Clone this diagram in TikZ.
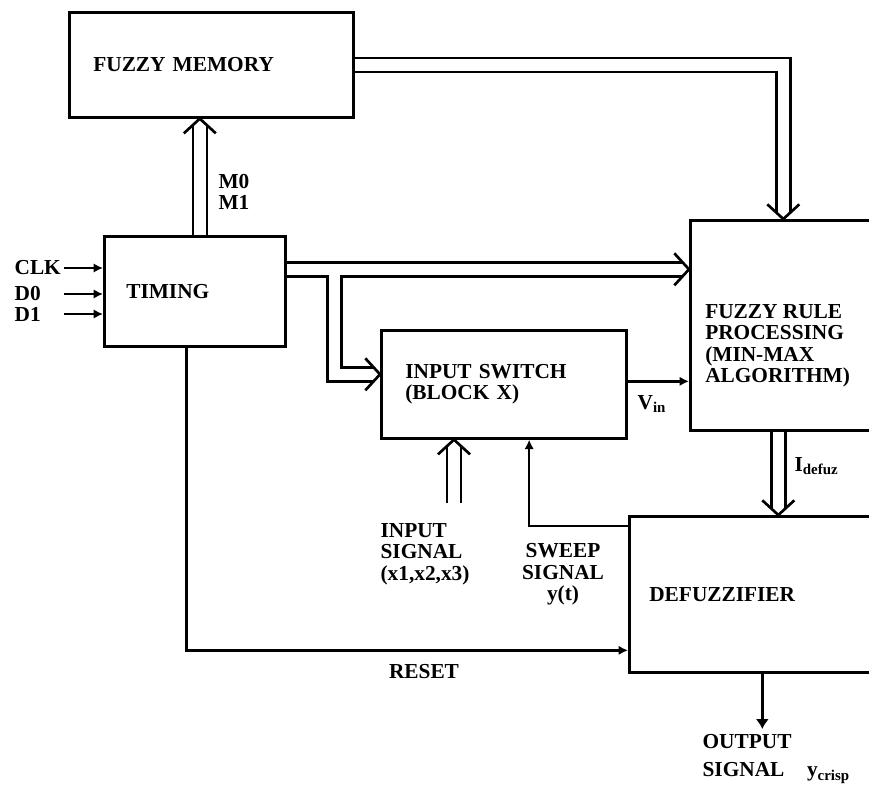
\documentclass[tikz,border=0pt]{standalone}
\usepackage{fontspec}
\setmainfont{Liberation Serif}
\usetikzlibrary{arrows.meta, positioning, decorations.markings}

\begin{document}
\begin{tikzpicture}[
		x=0.75pt, y=-0.75pt,
		font=\fontsize{16}{16}\selectfont\bfseries,
		block/.style={rectangle, draw=black, line width=2pt, align=left, anchor=north west, inner ysep=0pt},
		bus/.style={draw=none,
			postaction={draw, double, double distance=8.5pt, line width=2pt, shorten >=5pt},
			postaction={decorate, decoration={markings, mark=at position 1 with {\draw[line width=2pt] (-11pt,12pt) -- (0,0) -- (-11pt,-12pt);}}}},
		sig/.style={line width=1.8pt, -{Latex[length=7pt, width=7pt]}},
		txt/.style={inner sep=1pt, align=left},
		inlbl/.style={txt, text width=36pt, anchor=west}
		]
		\useasboundingbox (0,0) rectangle (869,785);
		\clip (0,0) rectangle (869,785);
		
		% Blocks
		\node[block, minimum width=213pt, minimum height=78.75pt, text width=177pt, inner xsep=18pt] (mem) at (68,11) {FUZZY MEMORY};
		\node[block, minimum width=135.75pt, minimum height=82.5pt, text width=102.75pt, inner xsep=16.5pt] (timing) at (103,235) {TIMING};
		\node[block, minimum width=183.75pt, minimum height=81pt, text width=147.75pt, inner xsep=18pt] (switch) at (380,329) {INPUT SWITCH\\(BLOCK X)};
		\node[block, minimum width=139.5pt, minimum height=157.5pt] (rule) at (689,219) {};
		\node[txt, below right=63pt and 11pt of rule.north west] (ruletxt) {FUZZY RULE\\PROCESSING\\(MIN-MAX\\ALGORITHM)};
		\node[block, minimum width=199.5pt, minimum height=117pt, text width=169.5pt, inner xsep=15pt] (defuz) at (628,515) {DEFUZZIFIER};
		
		% Timing inputs
		\node[inlbl] (clk) at (13,268) {CLK};
		\node[inlbl] (dzero) at (13,294) {D0};
		\node[inlbl] (done) at (13,314) {D1};
		\foreach \n in {clk, dzero, done}
			\draw[sig] (\n) -- (\n -| timing.west);
		
		% Memory select
		\draw[bus] ([xshift=3.75pt]timing.north) -- ([xshift=3.75pt]timing.north |- mem.south);
		\node[txt, anchor=west] (msel) at (217,192) {M0\\M1};
		
		% Memory to rule processing
		\draw[bus] (mem.east) -| (rule.north);
		
		% Timing bus and branch to input switch
		\draw[bus] ([yshift=16.5pt]timing.east) -- ([yshift=16.5pt]timing.east -| rule.west);
		\path ([yshift=16.5pt]timing.east) ++(36pt,0) coordinate (split);
		\draw[bus] (split) |- ([yshift=7.5pt]switch.west);
		\draw[white, line width=8pt] ([xshift=-9pt]split) -- ([xshift=9pt]split);
		
		% Input signal
		\coordinate (insrc) at (454,503);
		\draw[bus] (insrc) -- (insrc |- switch.south);
		\node[txt, anchor=north west] (insig) at (379,522) {INPUT\\SIGNAL\\(x1,x2,x3)};
		
		% Vin
		\draw[sig] ([yshift=2.25pt]switch.east) -- ([yshift=2.25pt]switch.east -| rule.west);
		\node[txt, anchor=west] (vin) at (636,404) {V\textsubscript{in}};
		
		% Rule processing to defuzzifier
		\draw[bus] ([xshift=-3.75pt]rule.south) -- ([xshift=-3.75pt]rule.south |- defuz.north);
		\node[txt, anchor=west] (idefuz) at (793,466) {I\textsubscript{defuz}};
		
		% Sweep signal
		\draw[sig] ([yshift=-8.25pt]defuz.north west) -| ([xshift=19pt]switch.south);
		\node[txt, align=center, anchor=north] (sweep) at (563,542) {SWEEP\\SIGNAL\\y(t)};
		
		% Reset
		\draw[sig] ([xshift=-6.4pt]timing.south) |- ([yshift=-42pt]defuz.west);
		\node[txt] (reset) at (424,672) {RESET};
		
		% Output
		\node[txt, anchor=north west] (outlbl) at (701,733) {OUTPUT\\[5pt]SIGNAL\hspace{17pt}y\textsubscript{crisp}};
		\draw[sig, -{Latex[length=7.5pt, width=10pt]}, shorten >=3pt] (defuz.south) -- (defuz.south |- outlbl.north);
		
	\end{tikzpicture}
\end{document}
